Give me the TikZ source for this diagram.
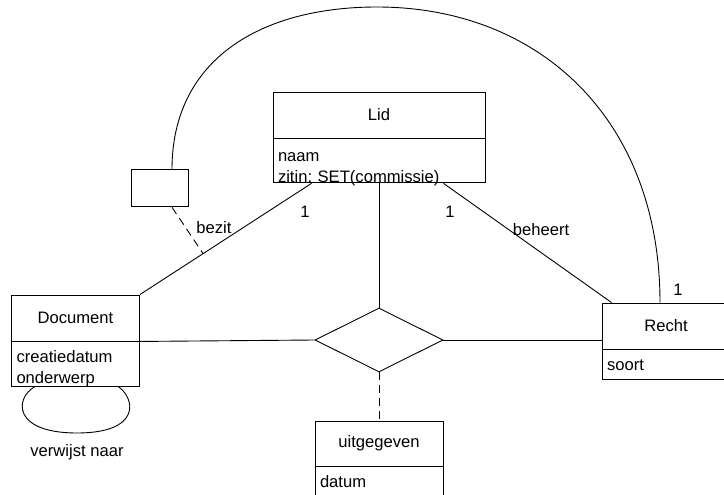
\documentclass[tikz,border=0pt]{standalone}
\usepackage{fontspec}
\setmainfont{Liberation Sans}
\usetikzlibrary{shapes.geometric}

\begin{document}
\begin{tikzpicture}[x=1pt,y=-1pt,line width=0.9pt,
  font=\fontsize{16.6}{20.7}\selectfont\frenchspacing,
  classname/.style={draw,rectangle,minimum width=128pt,minimum height=46pt,inner sep=0pt},
  classattr/.style={draw,rectangle,text width=118pt,inner xsep=5pt,inner ysep=0pt,align=left,
    text height=21pt,text depth=9pt},
  lbl/.style={inner sep=0pt},
  dashline/.style={dash pattern=on 8pt off 5pt}]

\useasboundingbox (0,0) rectangle (724,495);
\clip (0,0) rectangle (724,495);

\node[classname,minimum width=212pt] (lid) at (379,115) {Lid};
\node[classattr,text width=202pt,text height=23pt,text depth=21pt,anchor=north] (lidattr) at (lid.south) {naam\\zitin: SET(commissie)};

\node[classname] (doc) at (75.5,318) {Document};
\node[classattr,text depth=23.5pt,anchor=north] (docattr) at (doc.south) {creatiedatum\\onderwerp};

\node[classname] (recht) at (666,326) {Recht};
\node[classattr,anchor=north] (rechtattr) at (recht.south) {soort};

\node[classname,minimum height=45pt] (uit) at (379,443.5) {uitgegeven};
\node[classattr,anchor=north] (uitattr) at (uit.south) {datum};

\node[draw,diamond,aspect=2,minimum width=128pt,minimum height=64pt,inner sep=0pt] (rel) at (379,340) {};
\node[draw,rectangle,minimum width=57pt,minimum height=37pt] (mark) at (160,188.3) {};

% verbindingen
\draw (doc.north east) -- coordinate[pos=0.368] (bz) ([xshift=39pt]lidattr.south west);
\draw (lidattr.south) -- (rel.north);
\draw ([xshift=-42pt]lidattr.south east) -- ([xshift=10pt]recht.north west);
\draw (doc.south east) -- (rel.west);
\draw (rel.east) -- (rel.east -| recht.west);
\draw[dashline] (rel.south) -- (uit.north);
\draw[dashline] ([xshift=12pt]mark.south) -- (bz);
\draw ([xshift=12pt]mark.north) .. controls (172,60) and (260,7) .. (377,7)
  .. controls (540,7) and (660,120) .. ([xshift=-6pt]recht.north);
\draw ([xshift=-41pt]docattr.south) .. controls (15,398) and (12,433) .. (77,433)
  .. controls (142,433) and (135,398) .. ([xshift=43pt]docattr.south);

% labels
\node[lbl] (verwijst) at (77,452) {verwijst naar};
\node[lbl] (bezit) at (214,228) {bezit};
\node[lbl] (beheert) at (541,230) {beheert};
\node[lbl] (een1) at (305,212) {1};
\node[lbl] (een2) at (450,212) {1};
\node[lbl] (een3) at (678,290) {1};

\end{tikzpicture}
\end{document}
